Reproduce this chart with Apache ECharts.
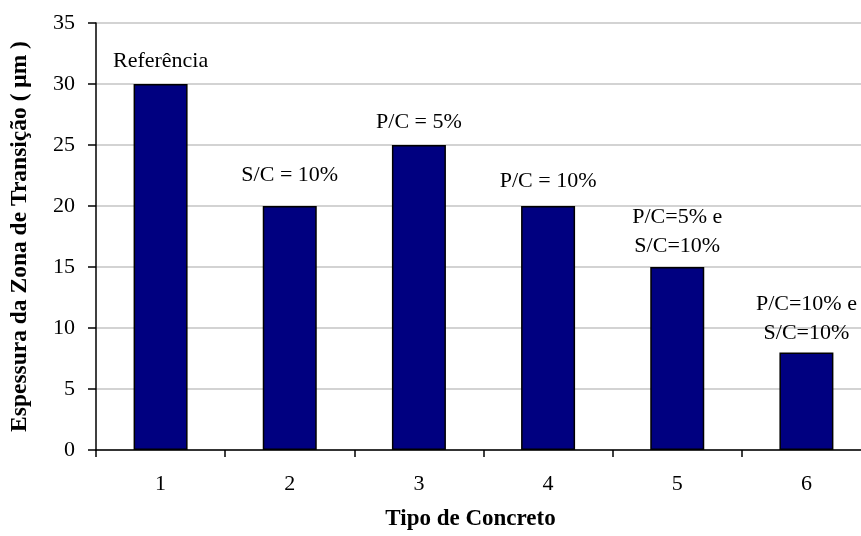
<!DOCTYPE html>
<html>
<head>
<meta charset="utf-8">
<script src="https://cdn.jsdelivr.net/npm/echarts@6/dist/echarts.min.js"></script>
<style>
html,body{margin:0;padding:0;background:#fff;}
#chart{width:861px;height:536px;}
</style>
</head>
<body>
<div id="chart"></div>
<script>
const categories = ['1', '2', '3', '4', '5', '6'];
const values = [30, 20, 25, 20, 15, 8];
const barLabels = ['Referência', 'S/C = 10%', 'P/C = 5%', 'P/C = 10%', 'P/C=5% e\nS/C=10%', 'P/C=10% e\nS/C=10%'];
const yTitle = 'Espessura da Zona de Transição ( μm )';
const xTitle = 'Tipo de Concreto';

const labelDistances = [8, 16, 8, 10, 6, 5];
const FONT = 'Liberation Serif';

const chart = echarts.init(document.getElementById('chart'), null, {renderer: 'canvas'});
chart.setOption({
  animation: false,
  backgroundColor: '#ffffff',
  grid: {left: 96, top: 23, width: 775, height: 427, containLabel: false, outerBoundsMode: 'none'},
  xAxis: {
    type: 'category',
    data: categories,
    name: xTitle,
    nameLocation: 'middle',
    nameGap: 58,
    nameTextStyle: {fontFamily: FONT, fontSize: 23, fontWeight: 'bold', color: '#000', padding: [0, 26, 0, 0]},
    axisLine: {lineStyle: {color: '#000', width: 1.5}},
    axisTick: {show: true, length: 7, lineStyle: {color: '#000', width: 1.5}},
    axisLabel: {fontFamily: FONT, fontSize: 22, color: '#000', margin: 23},
    splitLine: {show: false}
  },
  yAxis: {
    type: 'value',
    min: 0, max: 35, interval: 5,
    name: yTitle,
    nameLocation: 'middle',
    nameGap: 64,
    nameTextStyle: {fontFamily: FONT, fontSize: 23.5, fontWeight: 'bold', color: '#000'},
    axisLine: {show: true, lineStyle: {color: '#000', width: 1.5}},
    axisTick: {show: true, length: 8, lineStyle: {color: '#000', width: 1.5}},
    axisLabel: {fontFamily: FONT, fontSize: 22, color: '#000', margin: 21},
    splitLine: {show: true, lineStyle: {color: '#c4c4c4', width: 1.5}}
  },
  series: [{
    type: 'bar',
    barWidth: 54,
    data: values.map((v, i) => ({
      value: v,
      label: {
        show: true,
        position: 'top',
        distance: labelDistances[i],
        formatter: barLabels[i],
        fontFamily: FONT,
        fontSize: 22,
        lineHeight: 29,
        color: '#000'
      }
    })),
    itemStyle: {color: '#000080', borderColor: '#000', borderWidth: 1.5}
  }]
});
</script>
</body>
</html>
